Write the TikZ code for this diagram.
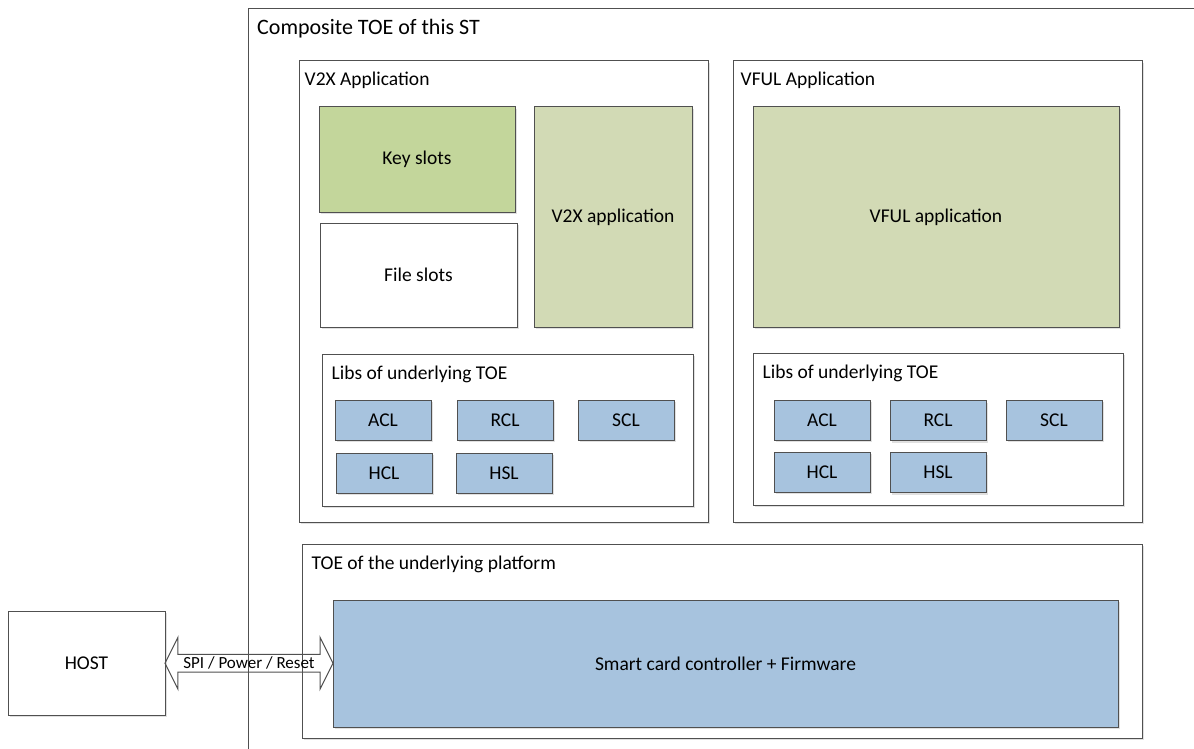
\documentclass[tikz,border=0pt]{standalone}
\usepackage{fontspec}
\setmainfont{Carlito}
\usetikzlibrary{shapes.arrows,shadows,calc}
\definecolor{borde}{HTML}{505050}
\definecolor{verdeosc}{HTML}{C3D69B}
\definecolor{verdeclaro}{HTML}{D2DAB5}
\definecolor{azul}{HTML}{A7C3DE}
\tikzset{
  caja/.style={draw=borde, line width=1pt, fill=white,
    drop shadow={shadow xshift=2pt, shadow yshift=-2pt, fill=black!12, opacity=1}},
  lib/.style={caja, fill=azul, minimum width=96pt, minimum height=40pt},
  etiqueta/.style={anchor=base west, inner sep=0pt}
}
\begin{document}
\begin{tikzpicture}[x=1pt, y=-1pt, font=\fontsize{19.5}{23}\selectfont]
        \useasboundingbox (0,0) rectangle (1194,749);
        % Marco del TOE compuesto
        \coordinate (marco) at (248,9);
        \draw[borde, line width=1pt] (248,749) -- (marco) -- (1194,9);
        \node[etiqueta, font=\fontsize{22}{26}\selectfont, xshift=9pt, yshift=-26pt] (compuesto) at (marco) {Composite TOE of this ST};

        % Aplicación V2X
        \node[caja, minimum width=409pt, minimum height=461pt] (v2x) at (503.5,291.5) {};
        \node[etiqueta, xshift=6pt, yshift=-25pt] (v2xtit) at (v2x.north west) {V2X Application};
        \node[caja, fill=verdeosc, minimum width=196pt, minimum height=105pt] (llaves) at (417,159.5) {Key slots};
        \node[caja, minimum width=197pt, minimum height=104pt] (ficheros) at (418.5,275) {File slots};
        \node[caja, fill=verdeclaro, minimum width=158pt, minimum height=220pt] (v2xapp) at (613,217) {V2X application};
        \node[caja, minimum width=371pt, minimum height=152pt] (libsa) at (507.5,430) {};
        \node[etiqueta, xshift=10pt, yshift=-26pt] (libsatit) at (libsa.north west) {Libs of underlying TOE};
        \node[lib] (acla) at (383,420) {ACL};
        \node[lib] (rcla) at (505,420) {RCL};
        \node[lib] (scla) at (626,420) {SCL};
        \node[lib] (hcla) at (384,473) {HCL};
        \node[lib] (hsla) at (504,473) {HSL};

        % Aplicación VFUL
        \node[caja, minimum width=409pt, minimum height=461pt] (vful) at (937.5,291.5) {};
        \node[etiqueta, xshift=8pt, yshift=-25pt] (vfultit) at (vful.north west) {VFUL Application};
        \node[caja, fill=verdeclaro, minimum width=366pt, minimum height=220pt] (vfulapp) at (936,217) {VFUL application};
        \node[caja, minimum width=370pt, minimum height=152pt] (libsb) at (938,429) {};
        \node[etiqueta, xshift=10pt, yshift=-26pt] (libsbtit) at (libsb.north west) {Libs of underlying TOE};
        \node[lib] (aclb) at (822,420) {ACL};
        \node[lib] (rclb) at (938,420.5) {RCL};
        \node[lib] (sclb) at (1054,420) {SCL};
        \node[lib] (hclb) at (822,472) {HCL};
        \node[lib] (hslb) at (938,472.5) {HSL};

        % Plataforma subyacente
        \node[caja, minimum width=840pt, minimum height=194pt] (toe) at (722,641) {};
        \node[etiqueta, xshift=10pt, yshift=-26pt] (toetit) at (toe.north west) {TOE of the underlying platform};
        \node[caja, fill=azul, minimum width=785pt, minimum height=127pt] (tarjeta) at (725.5,663.5) {Smart card controller + Firmware};

        % Host y enlace
        \node[caja, minimum width=157pt, minimum height=104pt] (host) at (86.5,663) {HOST};
        \node[double arrow, draw=borde, line width=1pt, inner sep=0pt,
              minimum height=168pt, minimum width=52pt,
              double arrow head extend=13pt, double arrow tip angle=127,
              font=\fontsize{17}{20}\selectfont] (enlace)
              at ($(host.east)!0.5!(tarjeta.west)$) {SPI / Power / Reset};
    \end{tikzpicture}
\end{document}
